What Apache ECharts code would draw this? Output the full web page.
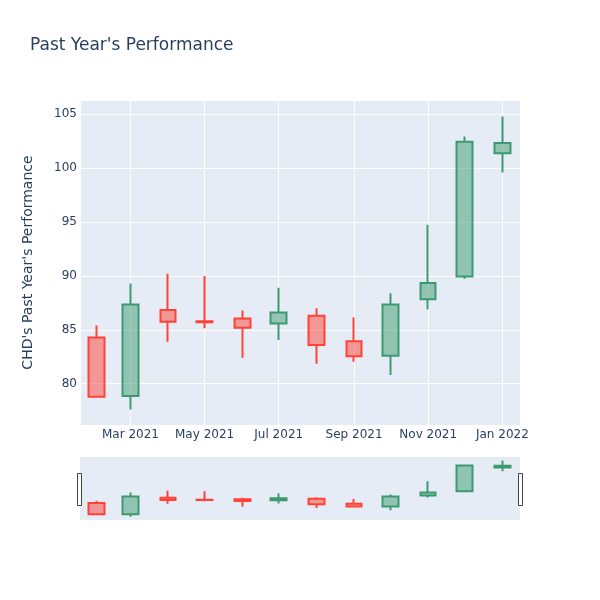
<!DOCTYPE html>
<html>
<head>
<meta charset="utf-8">
<script src="https://cdn.jsdelivr.net/npm/echarts@6/dist/echarts.min.js"></script>
<style>html,body{margin:0;padding:0;background:#fff;}#c{width:600px;height:600px;}</style>
</head>
<body>
<div id="c"></div>
<script>
const dates = ['2021-02-01','2021-03-01','2021-04-01','2021-05-01','2021-06-01','2021-07-01','2021-08-01','2021-09-01','2021-10-01','2021-11-01','2021-12-01','2022-01-01'];
const openVals  = [84.3, 78.85, 86.85, 85.8, 86.05, 85.6, 86.3, 83.95, 82.6, 87.85, 89.95, 101.4];
const closeVals = [78.8, 87.35, 85.75, 85.7, 85.2, 86.6, 83.6, 82.55, 87.35, 89.35, 102.45, 102.35];
const lowVals   = [78.7, 77.6, 83.9, 85.15, 82.4, 84.05, 81.85, 82.05, 80.8, 86.9, 89.75, 99.6];
const highVals  = [85.4, 89.3, 90.2, 90.0, 86.8, 88.9, 87.0, 86.15, 88.4, 94.75, 102.95, 104.8];
const monthNames = ['Jan','Feb','Mar','Apr','May','Jun','Jul','Aug','Sep','Oct','Nov','Dec'];

const candleData = dates.map((d, i) => [d, openVals[i], closeVals[i], lowVals[i], highVals[i]]);

const xMin = new Date(2021, 0, 18, 12, 0).getTime();
const xMax = new Date(2022, 0, 15, 12, 0).getTime();
const DAY = 86400000;

const font = '"DejaVu Sans", sans-serif';
const txt = '#2a3f5f';
const candleStyle = {
  color: 'rgba(61,153,112,0.5)',
  color0: 'rgba(255,65,54,0.5)',
  borderColor: '#3D9970',
  borderColor0: '#FF4136',
  borderWidth: 2
};

const chart = echarts.init(document.getElementById('c'), null, {renderer: 'canvas'});
chart.setOption({
  animation: false,
  backgroundColor: '#fff',
  title: {
    text: "Past Year's Performance",
    left: 25, top: 32,
    textStyle: {fontFamily: font, fontSize: 17, fontWeight: 'normal', color: txt}
  },
  grid: [
    {left: 80, right: 80, top: 100, height: 325, backgroundColor: '#E5ECF6', show: true, borderWidth: 0},
    {left: 80, right: 80, top: 457, height: 63, backgroundColor: '#E5ECF6', show: true, borderWidth: 0}
  ],
  xAxis: [
    {
      type: 'time', gridIndex: 0, min: xMin, max: xMax,
      minInterval: 65 * DAY, maxInterval: 65 * DAY,
      axisLine: {show: false}, axisTick: {show: false},
      splitLine: {show: true, lineStyle: {color: '#fff', width: 1}},
      axisLabel: {
        fontFamily: font, fontSize: 12, color: txt, margin: 4, hideOverlap: false,
        formatter: function (v) { const d = new Date(v); return monthNames[d.getMonth()] + ' ' + d.getFullYear(); }
      }
    },
    {
      type: 'time', gridIndex: 1, min: xMin, max: xMax,
      axisLine: {show: false}, axisTick: {show: false}, axisLabel: {show: false}, splitLine: {show: false}
    }
  ],
  yAxis: [
    {
      type: 'value', gridIndex: 0, min: 76.17, max: 106.33,
      name: "CHD's Past Year's Performance", nameLocation: 'middle', nameGap: 45,
      nameTextStyle: {fontFamily: font, fontSize: 14, color: txt},
      axisLine: {show: false}, axisTick: {show: false},
      splitLine: {show: true, lineStyle: {color: '#fff', width: 1}},
      axisLabel: {
        fontFamily: font, fontSize: 12, color: txt, margin: 3,
        showMinLabel: false, showMaxLabel: false,
        formatter: function (v) { return (Math.abs(v % 5) < 1e-6) ? String(v) : ''; }
      }
    },
    {
      type: 'value', gridIndex: 1, min: 76.03, max: 106.53,
      axisLine: {show: false}, axisTick: {show: false}, axisLabel: {show: false}, splitLine: {show: false}
    }
  ],
  series: [
    {
      type: 'candlestick', xAxisIndex: 0, yAxisIndex: 0, barWidth: 16,
      data: candleData, encode: {x: 0, y: [1, 2, 3, 4]},
      itemStyle: candleStyle
    },
    {
      type: 'candlestick', xAxisIndex: 1, yAxisIndex: 1, barWidth: 16,
      data: candleData, encode: {x: 0, y: [1, 2, 3, 4]},
      itemStyle: candleStyle
    }
  ],
  graphic: [
    {type: 'rect', shape: {x: 77.5, y: 473.5, width: 4, height: 32}, style: {fill: '#fff', stroke: '#444', lineWidth: 1}},
    {type: 'rect', shape: {x: 518.5, y: 473.5, width: 4, height: 32}, style: {fill: '#fff', stroke: '#444', lineWidth: 1}}
  ]
});
</script>
</body>
</html>
